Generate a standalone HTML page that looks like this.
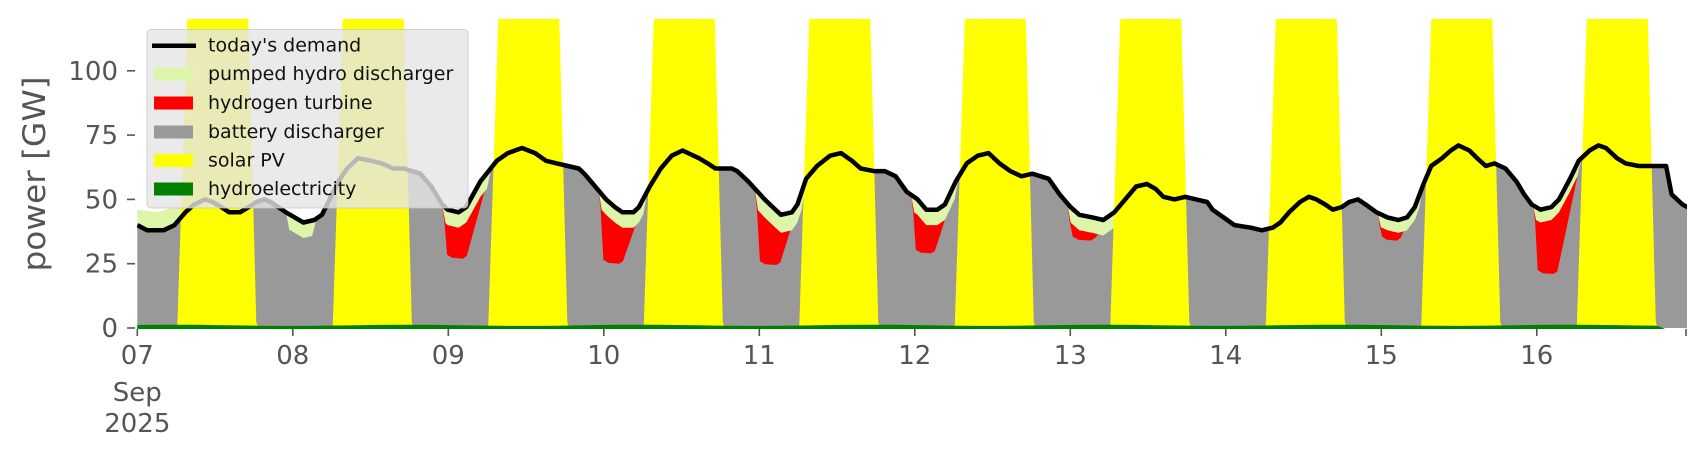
<!DOCTYPE html>
<html><head><meta charset="utf-8"><style>
html,body{margin:0;padding:0;background:#fff;}
svg{display:block;font-family:"DejaVu Sans","Liberation Sans",sans-serif;}
</style></head><body>
<svg id="s" width="1706" height="460" viewBox="0 0 1706 460" xmlns="http://www.w3.org/2000/svg">
<defs><clipPath id="c"><rect x="137" y="19" width="1550" height="310"/></clipPath></defs>
<g id="plot" clip-path="url(#c)"></g>
<g id="axes" fill="#555" font-size="26"></g>
<text x="35" y="174" font-size="31" fill="#555" text-anchor="middle" dominant-baseline="central" transform="rotate(-90 35 174)" textLength="195" lengthAdjust="spacingAndGlyphs">power [GW]</text>
<g id="leg">
<rect x="147" y="29.5" width="321" height="178.5" rx="4" fill="rgba(229,229,229,0.8)" stroke="rgba(200,200,200,0.8)" stroke-width="1"/>
<line x1="152" y1="45.7" x2="196" y2="45.7" stroke="#000" stroke-width="4.5"/>
<rect x="154" y="67.5" width="39" height="13" fill="#dcf5a8"/>
<rect x="154" y="96.5" width="39" height="13" fill="#ff0000"/>
<rect x="154" y="125.5" width="39" height="13" fill="#999999"/>
<rect x="154" y="154" width="39" height="13" fill="#ffff00"/>
<rect x="154" y="182.5" width="39" height="13" fill="#008000"/>
<g font-size="19" fill="#111" dominant-baseline="central">
<text x="208" y="45.7">today's demand</text>
<text x="208" y="74.2">pumped hydro discharger</text>
<text x="208" y="103">hydrogen turbine</text>
<text x="208" y="132">battery discharger</text>
<text x="208" y="160.5">solar PV</text>
<text x="208" y="189">hydroelectricity</text>
</g></g>
</svg>
<script>
const NS="http://www.w3.org/2000/svg";
const X=p=>137.3+(p-126)*1.0928, Y=v=>328-2.572*v;
const D=[[126,40],[135,38],[150,38],[160,40],[170,45],[178,48],[188,50],[195,49],[203,47],[210,45],[220,45],[228,47],[235,49],[242,50],[248,49],[255,47],[262,45],[270,43],[278,41],[288,42],[295,44],[302,50],[310,57],[318,62],[328,66],[340,65],[350,64],[360,62],[370,62],[385,60],[395,55],[405,48],[410,46],[420,45],[427,47],[440,57],[455,65],[465,68],[478,70],[490,68],[500,65],[510,64],[520,63],[530,62],[535,60],[545,55],[555,50],[563,47],[570,45],[580,45],[585,47],[595,55],[605,62],[615,67],[625,69],[630,68],[640,66],[648,64],[655,62],[670,62],[675,61],[685,57],[700,50],[710,46],[715,44],[725,45],[730,48],[738,58],[748,63],[760,67],[770,68],[780,65],[788,62],[800,61],[810,61],[820,59],[830,53],[840,50],[848,46],[858,46],[865,48],[875,57],[885,64],[895,67],[905,68],[915,64],[925,61],[935,59],[945,60],[960,58],[970,52],[980,47],[988,44],[1000,43],[1010,42],[1020,45],[1030,50],[1040,55],[1050,56],[1058,54],[1065,51],[1075,50],[1085,51],[1095,50],[1105,49],[1110,46],[1120,43],[1130,40],[1145,39],[1155,38],[1165,39],[1172,41],[1180,45],[1190,49],[1198,51],[1205,50],[1213,48],[1220,46],[1228,47],[1235,49],[1243,50],[1250,48],[1260,45],[1270,43],[1280,42],[1288,43],[1295,47],[1303,56],[1310,63],[1320,66],[1328,69],[1335,71],[1345,69],[1352,66],[1360,63],[1368,64],[1378,62],[1388,57],[1395,52],[1402,48],[1410,46],[1420,47],[1427,50],[1437,58],[1445,65],[1455,69],[1463,71],[1470,70],[1480,66],[1488,64],[1500,63],[1510,63],[1525,63],[1530,52],[1540,48],[1549,46]];
const dv=p=>{for(let i=0;i<D.length-1;i++){if(p>=D[i][0]&&p<=D[i+1][0]){const t=(p-D[i][0])/(D[i+1][0]-D[i][0]);return D[i][1]+t*(D[i+1][1]-D[i][1]);}}return D[D.length-1][1];};
const plot=document.getElementById('plot');
function poly(pts,fill){const e=document.createElementNS(NS,'polygon');e.setAttribute('points',pts.map(a=>a[0].toFixed(1)+','+a[1].toFixed(1)).join(' '));e.setAttribute('fill',fill);plot.appendChild(e);}
const seg=(a,b)=>{const r=[[X(a),Y(dv(a))]];D.forEach(d=>{if(d[0]>a&&d[0]<b)r.push([X(d[0]),Y(d[1])]);});r.push([X(b),Y(dv(b))]);return r;};
poly([[X(126),328]].concat(seg(126,1549)).concat([[X(1549),328]]),'#999999');
poly([[X(126),Y(40)],[X(126),Y(46)],[X(145),Y(45)],[X(160),Y(47)],[X(172),Y(48)],[X(172),Y(45)]].concat(seg(126,170).reverse()),'#dcf5a8');
// nights: a,b,t(pumped thickness),r(red bottom)
const N=[[262,290,6,null],[405,450,6,27],[548,593,6,25],[691,738,7,24.5],[834,878,6,29],[977,1028,6,34],[1261,1303,5,34],[1403,1448,5,21]];
N.forEach(([a,b,t,r])=>{
 const top=seg(a,b);
 const w=p=>Math.min(1,(p-a)/3,(b-p)/4);
 const pts=[];for(let p=a;p<=b;p+=1){pts.push([X(p),Y(dv(p)-t*Math.max(0,w(p)))]);}
 if(r!==null){
  const rb=[[X(b-1),Y(dv(b-1)-0.5)],[X(a+(b-a)*0.5),Y(r+1)],[X(a+(b-a)*0.42),Y(r)],[X(a+(b-a)*0.2),Y(r+0.3)],[X(a+(b-a)*0.1),Y(r+1.5)],[X(a+2),Y(dv(a+2)-t)]];
  poly(top.concat(rb),'#ff0000');
 }
 poly(top.concat(pts.reverse()),'#dcf5a8');
});
for(let k=0;k<10;k++){const xd=137.3+155.5*k;poly([[xd+37,328],[xd+40,325],[xd+50,19],[xd+111,19],[xd+119,322],[xd+121,328]],'#ffff00');}
const hp=[];for(let x=137.3;x<=1665;x+=20){hp.push([x,325.3+Math.sin(x/37)*0.6]);}
poly([[137.3,329]].concat(hp).concat([[1665,329]]),'#008000');
const pl=document.createElementNS(NS,'polyline');pl.setAttribute('points',D.map(d=>X(d[0]).toFixed(1)+','+Y(d[1]).toFixed(1)).join(' '));pl.setAttribute('fill','none');pl.setAttribute('stroke','#000');pl.setAttribute('stroke-width','4.5');pl.setAttribute('stroke-linejoin','round');plot.appendChild(pl);
const ax=document.getElementById('axes');
function txt(x,y,s,anc){const t=document.createElementNS(NS,'text');t.setAttribute('x',x);t.setAttribute('y',y);t.setAttribute('text-anchor',anc);t.setAttribute('dominant-baseline','central');t.textContent=s;ax.appendChild(t);}
function ln(x1,y1,x2,y2){const l=document.createElementNS(NS,'line');l.setAttribute('x1',x1);l.setAttribute('y1',y1);l.setAttribute('x2',x2);l.setAttribute('y2',y2);l.setAttribute('stroke','#555');l.setAttribute('stroke-width','1.6');ax.appendChild(l);}
[0,25,50,75,100].forEach(v=>{const y=Y(v);ln(127,y,135,y);txt(118,y+1,String(v),'end');});
['07','08','09','10','11','12','13','14','15','16'].forEach((s,k)=>{const x=137.3+155.5*k;ln(x,329,x,336);txt(x,356,s,'middle');});
ln(1686,329,1686,336);
txt(137.3,393,'Sep','middle');txt(137.3,424,'2025','middle');
document.getElementById('s').appendChild(document.getElementById('leg'));
</script>
</body></html>
